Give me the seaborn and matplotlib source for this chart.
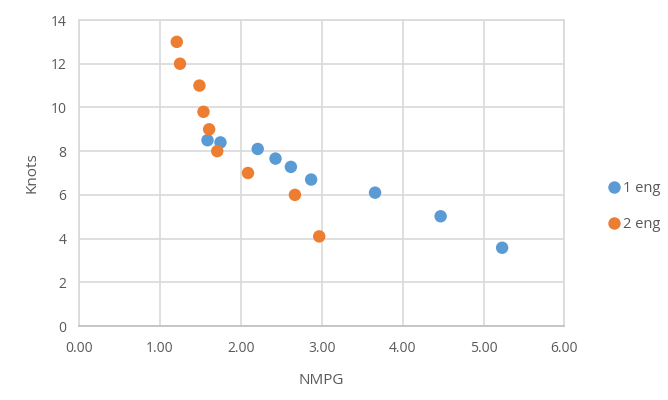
import matplotlib
matplotlib.use("Agg")
import matplotlib.pyplot as plt
import seaborn as sns
import pandas as pd
from matplotlib.ticker import FormatStrFormatter, MultipleLocator

one_eng_nmpg = [1.59, 1.75, 2.21, 2.43, 2.62, 2.87, 3.66, 4.47, 5.23]
one_eng_knots = [8.5, 8.4, 8.1, 7.66, 7.28, 6.7, 6.1, 5.02, 3.58]
two_eng_nmpg = [1.21, 1.25, 1.49, 1.54, 1.61, 1.71, 2.09, 2.67, 2.97]
two_eng_knots = [13.0, 12.0, 11.0, 9.8, 9.0, 8.0, 7.0, 6.0, 4.1]
series_names = ["1 eng", "2 eng"]

df = pd.concat([
    pd.DataFrame({"NMPG": one_eng_nmpg, "Knots": one_eng_knots, "Series": series_names[0]}),
    pd.DataFrame({"NMPG": two_eng_nmpg, "Knots": two_eng_knots, "Series": series_names[1]}),
], ignore_index=True)

sns.set_style("white")
plt.rcParams["font.family"] = ["Open Sans", "DejaVu Sans"]

fig = plt.figure(figsize=(6.68, 4.0), dpi=100)
ax = fig.add_axes([0.118, 0.185, 0.727, 0.765])

text_color = "#595959"
grid_color = "#D9D9D9"

sns.scatterplot(data=df, x="NMPG", y="Knots", hue="Series",
                palette={"1 eng": "#5B9BD5", "2 eng": "#ED7D31"},
                s=80, edgecolor="none", ax=ax, zorder=3)

ax.set_xlim(0, 6)
ax.set_ylim(0, 14)
ax.xaxis.set_major_locator(MultipleLocator(1))
ax.yaxis.set_major_locator(MultipleLocator(2))
ax.xaxis.set_major_formatter(FormatStrFormatter("%.2f"))
ax.grid(True, color=grid_color, linewidth=1.2)
ax.set_axisbelow(True)
for name, sp in ax.spines.items():
    sp.set_visible(True)
    sp.set_color(grid_color)
    sp.set_linewidth(1.2)
ax.spines["bottom"].set_color("#BFBFBF")

ax.tick_params(axis="both", length=0, labelsize=10, colors=text_color)
ax.tick_params(axis="x", pad=11)
ax.tick_params(axis="y", pad=9)
ax.set_xlabel("NMPG", fontsize=11, color=text_color, labelpad=12)
ax.set_ylabel("Knots", fontsize=11, color=text_color, labelpad=8)

leg = ax.legend(loc="center left", bbox_to_anchor=(1.073, 0.39), frameon=False,
                fontsize=10.5, handletextpad=0.05, labelspacing=1.45, markerscale=1.0,
                handlelength=1.0, borderpad=0.0)
for t in leg.get_texts():
    t.set_color(text_color)

fig.savefig("out.png", dpi=100)
